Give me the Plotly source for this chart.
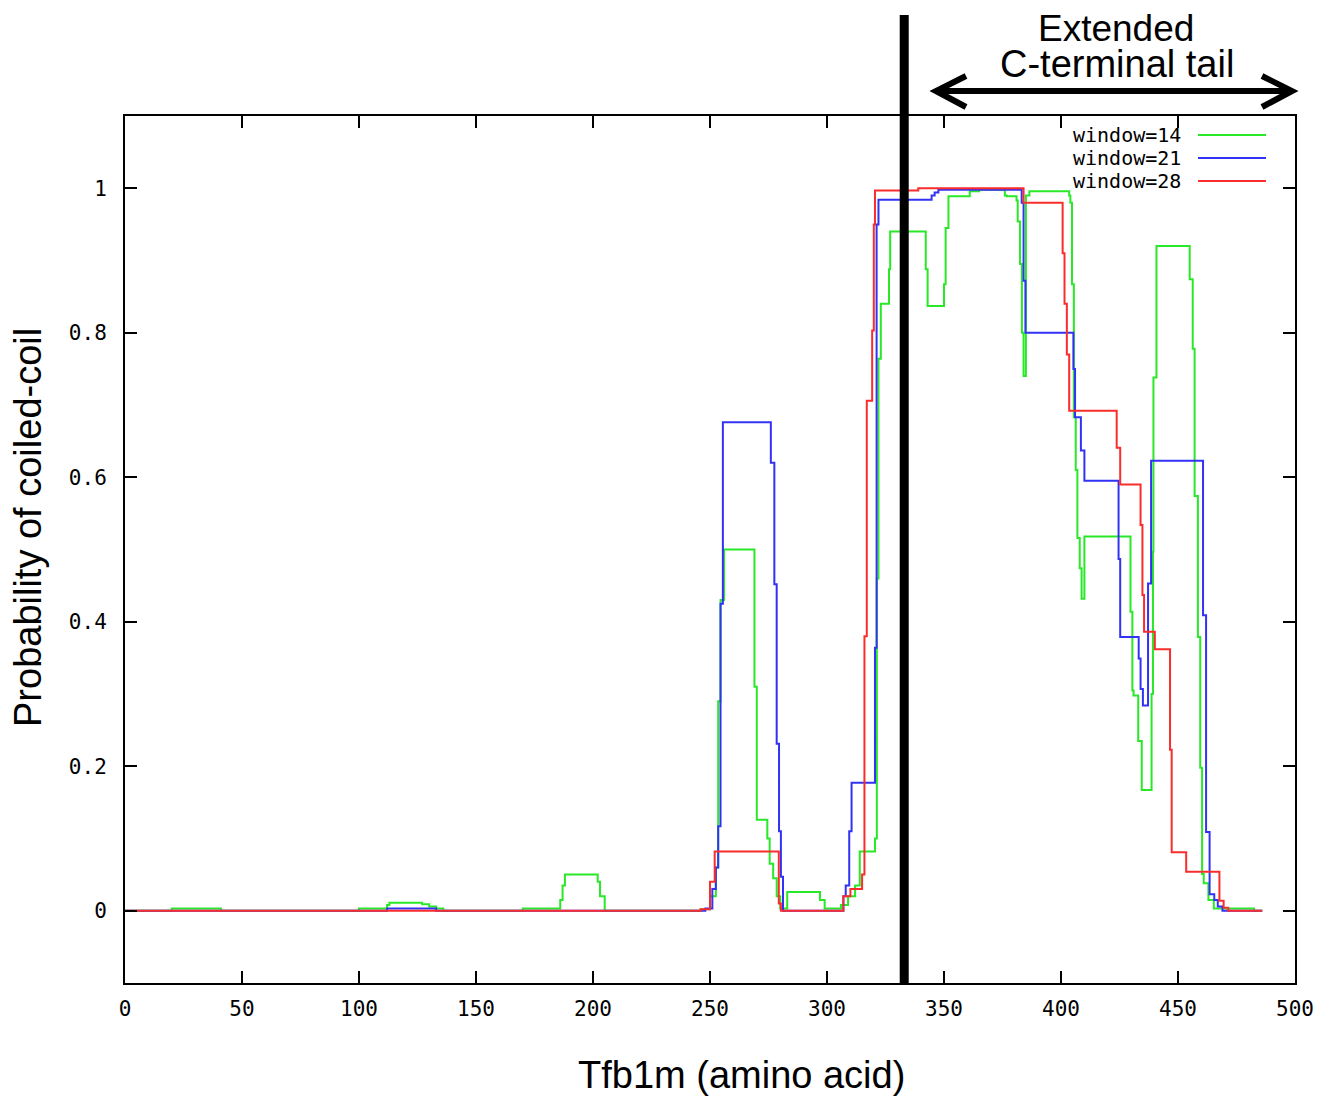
import plotly.graph_objects as go

# ---- data (change points of step curves) ----
w14_x = [0, 20, 41, 100, 112, 113, 127, 130, 133, 136, 170, 186, 187, 188, 202, 203, 205,
         246, 250, 252.5, 253.5, 254.5, 256, 269, 270, 274.5, 275.5, 277, 278.5, 280, 283, 297, 299,
         306, 309, 312, 314, 320.5, 321.3, 322, 323, 326.5, 327, 342.2, 343, 350, 350.7, 351.9,
         361, 365, 376, 376.8, 381, 381.5, 382.5, 383.3, 384, 385, 386.5, 403.5, 404, 404.7,
         405.5, 406.3, 407, 408, 408.8, 410, 429.7, 430.5, 431, 433, 434.5, 438.7, 439.3, 439.5,
         440.8, 455, 456.3, 457.1, 458.5, 459.5, 460.3, 461, 463, 465.3, 482.5, 486]
w14_y = [0, 0.003, 0, 0.003, 0.008, 0.011, 0.009, 0.006, 0.003, 0, 0.003, 0.015, 0.035, 0.05, 0.04, 0.02, 0,
         0.002, 0.02, 0.06, 0.29, 0.43, 0.5, 0.31, 0.126, 0.1, 0.065, 0.045, 0.02, 0.003, 0.026, 0.015, 0.003,
         0.008, 0.02, 0.035, 0.082, 0.1, 0.46, 0.764, 0.84, 0.888, 0.94, 0.888, 0.837, 0.867, 0.945, 0.989,
         0.996, 0.998, 0.99, 0.989, 0.983, 0.954, 0.895, 0.8, 0.74, 0.99, 0.996, 0.99, 0.98, 0.867,
         0.683, 0.61, 0.516, 0.474, 0.432, 0.518, 0.414, 0.305, 0.298, 0.235, 0.167, 0.3, 0.497, 0.738,
         0.92, 0.874, 0.778, 0.574, 0.379, 0.198, 0.051, 0.038, 0.015, 0.003, 0, 0]

w21_x = [0, 112, 133, 248, 251, 252.5, 253.5, 254.5, 255.5, 276, 277.5, 278.5, 279.5, 280.3, 281.2,
         307, 308, 309.5, 310.5, 320.5, 321.2, 322, 344.7, 346, 347.6, 383.2, 384, 384.8,
         405.3, 406, 408.5, 410, 424.6, 425.3, 433.2, 434, 435, 437.2, 438.5,
         460.7, 462, 463.5, 465.5, 467, 469, 486]
w21_y = [0, 0.003, 0, 0.003, 0.03, 0.06, 0.117, 0.425, 0.676, 0.62, 0.452, 0.231, 0.11, 0.047, 0,
         0.02, 0.035, 0.11, 0.177, 0.364, 0.95, 0.984, 0.99, 0.994, 0.998, 0.98, 0.872, 0.8,
         0.75, 0.683, 0.637, 0.595, 0.487, 0.379, 0.349, 0.307, 0.284, 0.453, 0.623,
         0.409, 0.109, 0.023, 0.015, 0.006, 0, 0]

w28_x = [0, 246, 250, 252, 279.4, 280.3, 307, 310, 315, 316, 317, 319.3, 320, 320.5, 339, 384,
         400.7, 401.5, 402.5, 403.5, 423.8, 425.3, 434, 434.8, 435.5, 440.1, 446.6, 447.3, 453.5,
         467.7, 469.5, 471.5, 486]
w28_y = [0, 0.002, 0.04, 0.082, 0.01, 0, 0.02, 0.03, 0.05, 0.38, 0.706, 0.803, 0.95, 0.997, 1.0, 0.98,
         0.91, 0.84, 0.77, 0.692, 0.641, 0.59, 0.534, 0.437, 0.386, 0.362, 0.223, 0.081, 0.054,
         0.014, 0.004, 0, 0]

series_names = ["window=14", "window=21", "window=28"]
series_colors = ["rgb(40,232,40)", "rgb(50,50,245)", "rgb(250,45,45)"]

x_ticks = [0, 50, 100, 150, 200, 250, 300, 350, 400, 450, 500]
y_ticks = [0, 0.2, 0.4, 0.6, 0.8, 1]
y_tick_labels = ["0", "0.2", "0.4", "0.6", "0.8", "1"]

marker_x = 333  # boundary of extended C-terminal tail

# ---- figure ----
OFF = 8  # page body margin
W, H = 1333 - OFF, 1096 - OFF
L, R, T, B = 125 - OFF, 38, 116 - OFF, 113
pw, ph = W - L - R, H - T - B

def px(xp):  # page pixel -> paper
    return (xp - OFF - L) / pw

def py(yp):
    return (H - B - (yp - OFF)) / ph

fig = go.Figure()
for xs, ys, name, col in zip([w14_x, w21_x, w28_x], [w14_y, w21_y, w28_y], series_names, series_colors):
    fig.add_trace(go.Scatter(x=xs, y=ys, mode="lines", name=name,
                             line=dict(color=col, width=2, shape="hv"), showlegend=False))

tickfont = dict(family="DejaVu Sans Mono", size=21, color="black")
fig.update_layout(
    width=W, height=H,
    margin=dict(l=L, r=R, t=T, b=B),
    paper_bgcolor="white", plot_bgcolor="white",
    xaxis=dict(range=[0, 500], tickvals=x_ticks, ticks="inside", ticklen=12, tickwidth=2,
               tickcolor="black", showline=True, linecolor="black", linewidth=2, mirror="ticks",
               showgrid=False, zeroline=False, tickfont=tickfont, ticklabelstandoff=6),
    yaxis=dict(range=[-0.1, 1.1], tickvals=y_ticks, ticktext=y_tick_labels, ticks="inside",
               ticklen=12, tickwidth=2, tickcolor="black", showline=True, linecolor="black",
               linewidth=2, mirror="ticks", showgrid=False, zeroline=False, tickfont=tickfont,
               ticklabelstandoff=12),
)

title_font = dict(family="Liberation Sans", size=38, color="black")
annotations = [
    dict(text="Probability of coiled-coil", xref="paper", yref="paper", x=px(28), y=py(528),
         textangle=-90, showarrow=False, font=title_font, xanchor="center", yanchor="middle"),
    dict(text="Tfb1m (amino acid)", xref="paper", yref="paper", x=px(741), y=py(1075),
         showarrow=False, font=title_font, xanchor="center", yanchor="middle"),
    dict(text="Extended", xref="paper", yref="paper", x=px(1116), y=py(28),
         showarrow=False, font=dict(family="Liberation Sans", size=37, color="black"),
         xanchor="center", yanchor="middle"),
    dict(text="C-terminal tail", xref="paper", yref="paper", x=px(1117), y=py(64),
         showarrow=False, font=dict(family="Liberation Sans", size=38, color="black"),
         xanchor="center", yanchor="middle"),
]
legend_rows = [135, 158, 181]
shapes = []
for name, col, yr in zip(series_names, series_colors, legend_rows):
    annotations.append(dict(text=name, xref="paper", yref="paper", x=px(1183), y=py(yr),
                            showarrow=False, xanchor="right", yanchor="middle",
                            font=dict(family="DejaVu Sans Mono", size=20, color="black")))
    shapes.append(dict(type="line", xref="paper", yref="paper", x0=px(1198), x1=px(1266),
                       y0=py(yr), y1=py(yr), line=dict(color=col, width=2)))

# vertical boundary line
shapes.append(dict(type="line", xref="x", yref="paper", x0=marker_x, x1=marker_x,
                   y0=py(985), y1=py(15), line=dict(color="black", width=9)))
# double-headed arrow
ya = py(91)
path = (f"M {px(936)},{ya} L {px(1292)},{ya} "
        f"M {px(966)},{py(76)} L {px(936)},{ya} L {px(966)},{py(107)} "
        f"M {px(1262)},{py(76)} L {px(1292)},{ya} L {px(1262)},{py(107)}")
shapes.append(dict(type="path", xref="paper", yref="paper", path=path,
                   line=dict(color="black", width=6)))

fig.update_layout(annotations=annotations, shapes=shapes)
fig.write_html("out.html")
